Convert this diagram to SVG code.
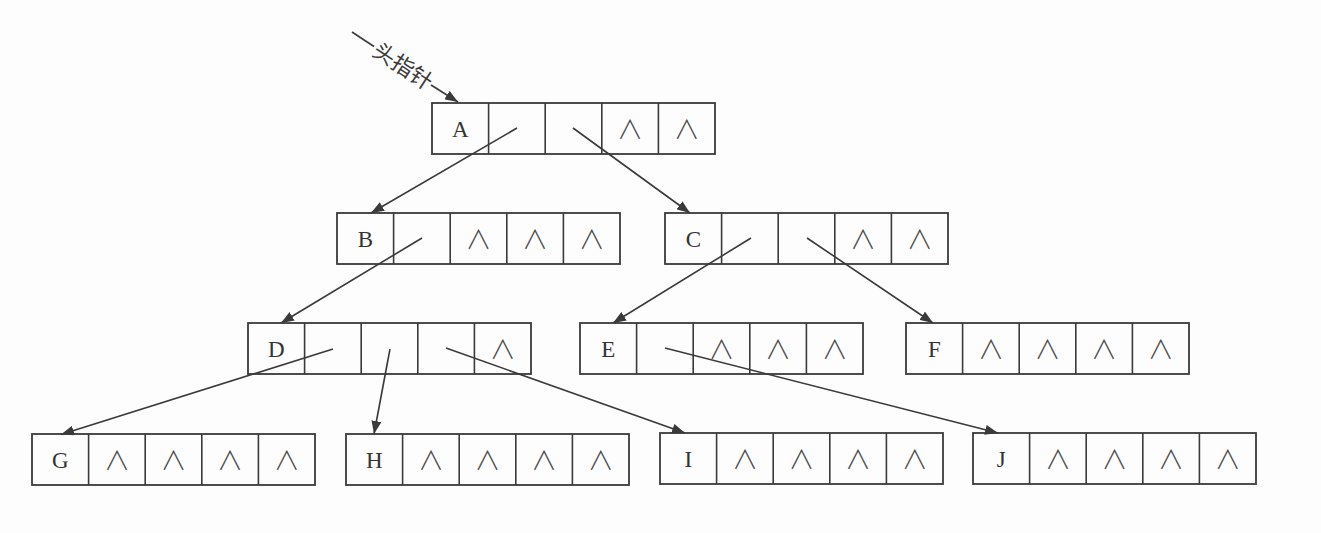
<svg xmlns="http://www.w3.org/2000/svg" width="1321" height="533" viewBox="0 0 1321 533">
<style>
.bg{fill:#fdfdfd}
.box{fill:none;stroke:#3a3a3a;stroke-width:1.8}
.div{stroke:#3a3a3a;stroke-width:1.6}
.lbl{font-family:"Liberation Serif","Times New Roman",serif;font-size:23px;fill:#333;text-anchor:middle}
.nil{font-family:"Noto Sans CJK SC","DejaVu Sans",sans-serif;font-weight:300;font-size:26px;fill:#4a4a4a;text-anchor:middle}
.edge{stroke:#3a3a3a;stroke-width:1.6;fill:none;marker-end:url(#arr)}
.head{font-family:"Noto Sans CJK SC","Noto Sans",sans-serif;font-size:22px;fill:#3a3a3a;text-anchor:middle}
</style>
<defs>
<marker id="arr" markerUnits="userSpaceOnUse" markerWidth="14" markerHeight="10" refX="13" refY="5" orient="auto">
<path d="M0,0 L13,5 L0,10 Z" fill="#3a3a3a"/>
</marker>
<g id="cells">
<rect class="box" x="0" y="0" width="283" height="51"/>
<line class="div" x1="56.6" y1="0" x2="56.6" y2="51"/>
<line class="div" x1="113.2" y1="0" x2="113.2" y2="51"/>
<line class="div" x1="169.8" y1="0" x2="169.8" y2="51"/>
<line class="div" x1="226.4" y1="0" x2="226.4" y2="51"/>
</g>
</defs>
<rect class="bg" x="0" y="0" width="1321" height="533"/>

<g id="head-pointer">
<line x1="352" y1="32" x2="374" y2="46.5" stroke="#3a3a3a" stroke-width="1.6"/>
<line class="edge" x1="431" y1="85" x2="458" y2="102"/>
<text class="head" transform="translate(403,66) rotate(33.4)" y="8">头指针</text>
</g>

<g id="A" transform="translate(432,103)">
<use href="#cells"/>
<text class="lbl" x="28.3" y="34">A</text>
<text class="nil" x="198.1" y="36">∧</text>
<text class="nil" x="254.7" y="36">∧</text>
</g>
<g id="B" transform="translate(337,213)">
<use href="#cells"/>
<text class="lbl" x="28.3" y="34">B</text>
<text class="nil" x="141.5" y="36">∧</text>
<text class="nil" x="198.1" y="36">∧</text>
<text class="nil" x="254.7" y="36">∧</text>
</g>
<g id="C" transform="translate(665,213)">
<use href="#cells"/>
<text class="lbl" x="28.3" y="34">C</text>
<text class="nil" x="198.1" y="36">∧</text>
<text class="nil" x="254.7" y="36">∧</text>
</g>
<g id="D" transform="translate(248,323)">
<use href="#cells"/>
<text class="lbl" x="28.3" y="34">D</text>
<text class="nil" x="254.7" y="36">∧</text>
</g>
<g id="E" transform="translate(580,323)">
<use href="#cells"/>
<text class="lbl" x="28.3" y="34">E</text>
<text class="nil" x="141.5" y="36">∧</text>
<text class="nil" x="198.1" y="36">∧</text>
<text class="nil" x="254.7" y="36">∧</text>
</g>
<g id="F" transform="translate(906,323)">
<use href="#cells"/>
<text class="lbl" x="28.3" y="34">F</text>
<text class="nil" x="84.9" y="36">∧</text>
<text class="nil" x="141.5" y="36">∧</text>
<text class="nil" x="198.1" y="36">∧</text>
<text class="nil" x="254.7" y="36">∧</text>
</g>
<g id="G" transform="translate(32,434)">
<use href="#cells"/>
<text class="lbl" x="28.3" y="34">G</text>
<text class="nil" x="84.9" y="36">∧</text>
<text class="nil" x="141.5" y="36">∧</text>
<text class="nil" x="198.1" y="36">∧</text>
<text class="nil" x="254.7" y="36">∧</text>
</g>
<g id="H" transform="translate(346,434)">
<use href="#cells"/>
<text class="lbl" x="28.3" y="34">H</text>
<text class="nil" x="84.9" y="36">∧</text>
<text class="nil" x="141.5" y="36">∧</text>
<text class="nil" x="198.1" y="36">∧</text>
<text class="nil" x="254.7" y="36">∧</text>
</g>
<g id="I" transform="translate(660,433)">
<use href="#cells"/>
<text class="lbl" x="28.3" y="34">I</text>
<text class="nil" x="84.9" y="36">∧</text>
<text class="nil" x="141.5" y="36">∧</text>
<text class="nil" x="198.1" y="36">∧</text>
<text class="nil" x="254.7" y="36">∧</text>
</g>
<g id="J" transform="translate(973,433)">
<use href="#cells"/>
<text class="lbl" x="28.3" y="34">J</text>
<text class="nil" x="84.9" y="36">∧</text>
<text class="nil" x="141.5" y="36">∧</text>
<text class="nil" x="198.1" y="36">∧</text>
<text class="nil" x="254.7" y="36">∧</text>
</g>

<g id="connectors">
<line class="edge" x1="517" y1="128" x2="371" y2="213"/>
<line class="edge" x1="573" y1="128" x2="690" y2="213"/>
<line class="edge" x1="422" y1="238" x2="281" y2="323"/>
<line class="edge" x1="751" y1="238" x2="613" y2="323"/>
<line class="edge" x1="807" y1="238" x2="933" y2="323"/>
<line class="edge" x1="333" y1="349" x2="61" y2="434.5"/>
<line class="edge" x1="390" y1="349" x2="374" y2="434"/>
<line class="edge" x1="446" y1="348" x2="685" y2="433"/>
<line class="edge" x1="665" y1="348" x2="998" y2="433"/>
</g>
</svg>
